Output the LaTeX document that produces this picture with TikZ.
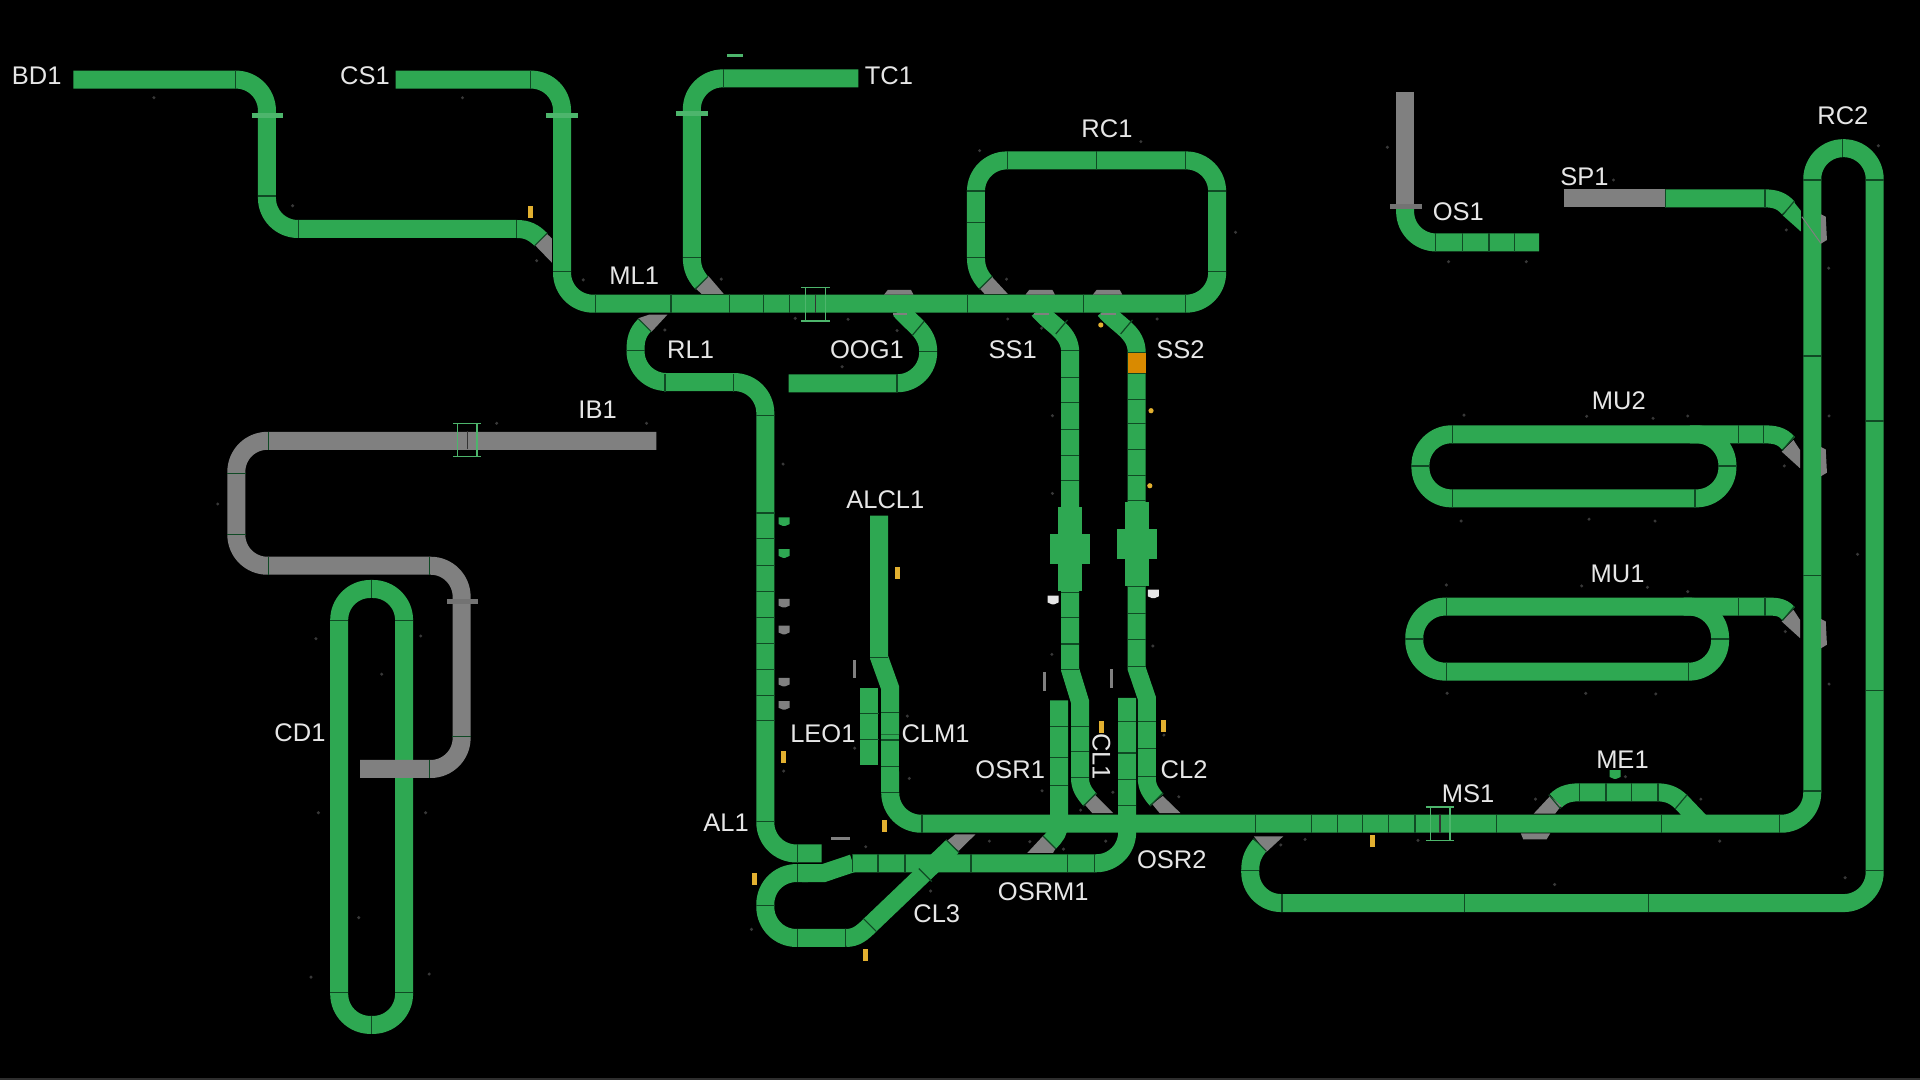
\documentclass[tikz,border=0pt]{standalone}
\usepackage{fontspec}
\setmainfont{Liberation Sans}
\definecolor{pipegreen}{HTML}{2EA852}
\definecolor{pipegray}{HTML}{808080}
\definecolor{cutdark}{HTML}{0F4A24}
\definecolor{tagyellow}{HTML}{E2B030}
\definecolor{blockorange}{HTML}{D98A00}
\definecolor{lbltext}{HTML}{E6E6E6}
\tikzset{
  pipe/.style={draw=pipegreen,line width=18pt},
  graypipe/.style={draw=pipegray,line width=18pt},
  bendy/.style={rounded corners=31pt},
  segcut/.style={draw=cutdark,line width=1.2pt},
  flange/.style={line width=5pt},
  gateline/.style={draw=pipegreen!85!white,line width=1.4pt},
  wedge/.style={fill=pipegray},
  speck/.style={fill=white!22!black},
  lbl/.style={text=lbltext,inner sep=0pt,font=\fontsize{25.5}{28}\selectfont}
}
\begin{document}
\begin{tikzpicture}[x=1.22449pt,y=-1.22449pt]
\useasboundingbox (0,0) rectangle (1568,882);
\fill[black] (0,0) rectangle (1568,882);
\fill[white!18!black] (0,880) rectangle (1568,882);
\foreach \x/\y in {125.7/79.8,377.7/79.8,239/168,438.3/212.9,476.3/228.6,800/123,931.7/115.7,1009/189.7,822/228,589/228,
  543/269.5,649.4/260,692.6/260.8,732.6/270,687.7/299.5,823/260.5,850.6/268,945/260.5,528/345.7,639.5/379,859.5/339.5,859.5/403,
  859/534.4,941.5/527.6,741/584.8,698/611,742.6/635.7,640/629.7,707/691.5,808/686.9,841/687.4,868.5/693.4,903/686.9,851/645.8,
  882.5/661.6,908.8/647,962.7/650.7,760/727.7,613.7/759,950.5/600.3,1065.8/685.5,1046/690,1158/686.3,1254/652.6,1327.4/634.3,
  1389/652.6,1404.4/686.9,1269.6/722.3,1506.8/716.8,1133/120.3,1317.7/147,1458.8/187.8,1493.4/219,1534/119,1183/213.7,1246.5/213.7,
  1195.6/339,1295.8/340,1350/341.6,1378.3/339.7,1193.2/425.5,1297.7/424,1351.6/425.5,1493.7/339.7,1457.2/380.5,1517/452.7,
  1181.2/477.7,1291.7/478.5,1345.4/479.6,1378.3/483.2,1458/515.8,1493.7/558.6,1181.8/566.2,1295/566.2,1352.2/566.7,
  405.6/345.7,177.8/411.6,258/521.6,343.6/519.4,311.7/550.6,260/663.7,347.6/663.7,293/749.4,254/798,350.5/795.5}
  \fill[speck] (\x,\y) circle (1.7pt);
\draw[pipe,bendy] (277,481) -- (330,481) -- (330,837) -- (277,837) -- cycle;
\draw[graypipe,bendy] (536,360) -- (193,360) -- (193,462) -- (377,462) -- (377,628) -- (294,628);
\draw[pipe,bendy] (60,65) -- (218,65) -- (218,187) -- (422,187);
\draw[pipe] (422,187) to[out=0,in=135] (441.7,195.6);
\draw[pipe,bendy] (701,64) -- (565,64) -- (565,210);
\draw[pipe] (565,210) to[out=-90,in=130] (573,231);
\draw[pipe] (526.5,265.5) to[out=225,in=90] (519,286);
\draw[pipe,bendy] (519,286) -- (519,312) -- (625,312) -- (625,697) -- (671,697);
\draw[pipe,bendy] (644,313) -- (758,313) -- (758,287);
\draw[pipe] (758,287) to[out=90,in=-50] (735,253);
\draw[pipe] (848,253) to[out=-50,in=90] (874,288) -- (874,547) -- (882,573) -- (882,635) to[out=-90,in=130] (890,653);
\draw[pipe] (902,253) to[out=-50,in=90] (928.3,288) -- (928.3,546) -- (936.5,570) -- (936.5,635) to[out=-90,in=130] (944.4,653);
\draw[pipe,draw=blockorange] (928.3,288) -- (928.3,305);
\draw[pipe] (718,421) -- (718,537) -- (727,562) -- (727,600);
\draw[pipe] (710,562) -- (710,625);
\draw[pipe] (865,572) -- (865,672) to[out=-90,in=45] (857,688);
\draw[pipe,bendy] (920.5,570) -- (920.5,705) -- (696.5,705);
\draw[pipe] (696.5,705) -- (672.6,713) -- (655,713);
\draw[pipe,bendy] (660,713) -- (625,713) -- (625,766) -- (690.7,766);
\draw[pipe] (690.7,766) to[out=0,in=225] (710.5,755.5) -- (778,691);
\begin{scope}
\clip (1260,630) rectangle (1400,665);
\draw[pipe] (1270.5,654) to[out=45,in=180] (1292,647) -- (1352,647) to[out=0,in=135] (1373,655) -- (1395,678);
\end{scope}
\draw[pipe,bendy] (1160,354.7) -- (1410.7,354.7) -- (1410.7,407) -- (1160,407) -- cycle;
\draw[pipe] (1380,354.7) -- (1440,354.7) to[out=0,in=130] (1460.5,362);
\draw[pipe,bendy] (1155,495.4) -- (1404.7,495.4) -- (1404.7,548.5) -- (1155,548.5) -- cycle;
\draw[pipe] (1375,495.4) -- (1441,495.4) to[out=0,in=130] (1460.5,501);
\draw[graypipe] (1147.5,75) -- (1147.5,169);
\draw[pipe,bendy] (1147.5,169) -- (1147.5,198) -- (1257,198);
\draw[graypipe] (1277,162) -- (1360,162);
\draw[pipe] (1360,162) -- (1441,162) to[out=0,in=130] (1460.5,170);
\fill[pipegreen] (1465,165) -- (1456,176) -- (1470.6,189) -- (1470.6,172) -- cycle;
\draw[pipe,bendy] (323,65) -- (459,65) -- (459,248) -- (994,248) -- (994,131) -- (797,131) -- (797,210);
\draw[pipe] (797,210) to[out=-90,in=130] (805,231);
\draw[pipe] (727,600) -- (727,640);
\draw[pipe,bendy] (727,630) -- (727,672.7) -- (1480,672.7) -- (1480,121) -- (1531,121) -- (1531,737.5) -- (1021,737.5) -- (1021,711);
\draw[pipe] (1021,711) to[out=90,in=230] (1029,690);
\foreach \vx/\vy in {873.8/414,928.3/410}
  \fill[pipegreen] (\vx-9.8,\vy) rectangle (\vx+9.8,\vy+68.5);
\foreach \vx/\vy in {873.8/436,928.3/432}
  \fill[pipegreen] (\vx-16.3,\vy) rectangle (\vx+16.3,\vy+24.5);
\fill[wedge] (436.7,200) -- (446.7,191) -- (450.7,194.7) -- (450.7,214.5) -- cycle;
\fill[wedge] (568,235.5) -- (578.5,225.4) -- (591,240) -- (573,240) -- cycle;
\fill[wedge] (800,235.5) -- (810,226) -- (823,240) -- (804,240) -- cycle;
\fill[wedge] (521,260) -- (532,271) -- (545,257) -- (530,257) -- cycle;
\fill[wedge] (885.5,656.6) -- (894,649) -- (909,664) -- (892,664) -- cycle;
\fill[wedge] (941,656.7) -- (949.6,650) -- (964,664) -- (947,664) -- cycle;
\fill[wedge] (852,682.5) -- (862,693) -- (860,696.5) -- (839,696.5) -- cycle;
\fill[wedge] (773,687) -- (783,694.8) -- (796.5,681.5) -- (780,681.5) -- cycle;
\fill[wedge] (1024,683) -- (1034,696) -- (1048,683) -- cycle;
\fill[wedge] (1252.5,664.5) -- (1266,650) -- (1275,658) -- (1270,664.5) -- cycle;
\fill[wedge] (1242,680.6) -- (1266,680.6) -- (1263,685.5) -- (1244,685.5) -- cycle;
\foreach \cx in {734,849.5,904.5} {
  \fill[wedge] (\cx-12,240.6) -- (\cx-9,236.8) -- (\cx+10,236.8) -- (\cx+12,240.6) -- cycle;
  \fill[wedge] (\cx-5,256) rectangle (\cx+7,257.5);
}
\foreach \wx/\wy in {1464.6/359.3,1464.6/498}
  \fill[wedge] (\wx,\wy) -- (\wx-9.6,\wy+9.5) -- (\wx+5.4,\wy+23.1) -- (\wx+5.4,\wy+8.2) -- cycle;
\draw[pipegray,line width=1pt] (1471.5,177) -- (1487,198.7);
\foreach \ty in {175,365,505.5}
  \fill[wedge] (1487,\ty) -- (1491,\ty+2) -- (1492,\ty+21) -- (1487,\ty+24) -- cycle;
\foreach \fx/\fy in {218.5/94.5,459/94,565/93}
  \draw[flange,pipegreen!85!white] (\fx-13,\fy) -- (\fx+13,\fy);
\draw[pipegreen!85!white,line width=3pt] (594,45) -- (607,45);
\draw[flange,pipegray!110] (1135,169) -- (1161,169);
\draw[flange,pipegray!110] (365,491.4) -- (390.4,491.4);
\foreach \x/\y/\a in {192/65/90,244/187/90,422/187/90,433/65/90,486/248/90,591/64/90,548/248/90,596/248/90,623.5/248/90,645/248/90,
  790/248/90,885/248/90,968/248/90,823/131/90,895.6/131/90,968/131/90,543/313/90,599/313/90,732.6/313/90,
  753/672.7/90,1025/672.7/90,1071/672.7/90,1092/672.7/90,1113/672.7/90,1134/672.7/90,1155.5/672.7/90,1222/672.7/90,1357/672.7/90,1453/672.7/90,
  1047/737.5/90,1196/737.5/90,1346/737.5/90,303.5/481/90,303.5/837/90,1290/647/90,1311.6/647/90,1332.5/647/90,1354/647/90,1505/121/90,
  696.5/705/90,717/705/90,739/705/90,793/705/90,872/705/90,893.6/705/90,651.6/697/90,651.6/713/90,651.6/766/90,690.7/766/90,
  1172.6/198/90,1194.5/198/90,1216/198/90,1237/198/90,1360/162/90,1441.4/162/90,219/360/90,219/462/90,351/462/90,351/628/90,
  1186/354.7/90,1419.7/354.7/90,1440/354.7/90,1186/407/90,1384.3/407/90,1181/495.4/90,1419.7/495.4/90,1441.4/495.4/90,1181/548.5/90,1378.8/548.5/90,
  218/160/0,459/222/0,565/210/0,797/156/0,797/182/0,797/210/0,994/156/0,994/222/0,519/286/0,758/287/0,625/339/0,
  625/419/0,625/440/0,625/462/0,625/483/0,625/504/0,625/525.3/0,625/546.5/0,625/568/0,625/588.6/0,625/671/0,
  874/286/0,874/308/0,874/329/0,874/351/0,874/372/0,874/392.5/0,874/483.6/0,874/504.4/0,874/526/0,874/547/0,
  928.3/288/0,928.3/305/0,928.3/326/0,928.3/346/0,928.3/367/0,928.3/388/0,928.3/409/0,928.3/479/0,928.3/500.8/0,928.3/522/0,928.3/544/0,
  882/593/0,882/614/0,882/635/0,936.5/589/0,936.5/611/0,936.5/634/0,710/583/0,710/604/0,718/537/0,727/582/0,727/604.4/0,727/626/0,727/647/0,
  865/593/0,865/618.5/0,865/641.7/0,920.5/589/0,920.5/615/0,920.5/636.5/0,920.5/657.5/0,625/739.7/0,1021/710.6/0,
  1480/147/0,1480/290.7/0,1480/470/0,1480/646/0,1531/147/0,1531/343.8/0,1531/564/0,1531/711/0,
  277/507/0,330/507/0,277/810.4/0,330/810.4/0,193/386.6/0,193/436.7/0,377/601.6/0,
  1160/380.5/0,1410.7/380.5/0,1155/521.8/0,1404.7/521.8/0,
  750/268/50,867/267/50,920/267/50,441.7/195.6/45,710.5/755.5/-45,755.7/714.6/-45,1269.6/654.7/-50,1373/654.7/50,
  1460.5/170/50,1460.5/362/50,1460.5/501/50,890/653/45,944.4/653/45,805/231/45,573/231/45,526.5/265.5/-45,778/691/-45,857/688/-45,1029/690/-45}
  \draw[segcut,shift={(\x,\y)},rotate=\a] (-7.5,0) -- (7.5,0);
\foreach \gx/\gy in {666/248.5,381.5/359.5,1176/672.7} {
  \draw[gateline] (\gx-11.5,\gy-13.5) -- (\gx+11.5,\gy-13.5);
  \draw[gateline] (\gx-11.5,\gy+13.5) -- (\gx+11.5,\gy+13.5);
  \draw[gateline] (\gx-8,\gy-13.5) -- (\gx-8,\gy+13.5);
  \draw[gateline] (\gx+8,\gy-13.5) -- (\gx+8,\gy+13.5);
  \draw[segcut,black!80] (\gx,\gy-7.5) -- (\gx,\gy+7.5);
}
\foreach \x/\y in {433.3/173,732.8/468,640/618.5,722.4/674.4,616/717.6,707/779.7,899.5/594,950.5/593,1121/687}
  \fill[tagyellow] (\x-2,\y-5) rectangle (\x+2,\y+5);
\foreach \x/\y in {899/265.4,940/335.4,939/396.7}
  \fill[tagyellow] (\x,\y) circle (2.6pt);
\foreach \x/\y in {853/556.7,907.6/554,697.7/546.5}
  \fill[pipegray] (\x-1.5,\y-7.5) rectangle (\x+1.5,\y+7.5);
\fill[pipegray] (679,683.5) rectangle (694,686);
\foreach \x/\y/\c in {640.3/426/pipegreen,640.3/452/pipegreen,640.3/492.6/pipegray,640.3/514.5/pipegray,640.3/557/pipegray,640.3/576/pipegray,860/490/lbltext,941.9/485/lbltext,1319/632.5/pipegreen}
  \fill[\c] (\x-4.5,\y-3.5) -- (\x+4.5,\y-3.5) -- (\x+4.5,\y+2) -- (\x+1,\y+3.5) -- (\x-1,\y+3.5) -- (\x-4.5,\y+2) -- cycle;
\node[lbl] (bd1) at (30,61.5) {BD1};
\node[lbl] (cs1) at (298,61.5) {CS1};
\node[lbl] (tc1) at (726,61.5) {TC1};
\node[lbl] (rc1) at (904,105.5) {RC1};
\node[lbl] (ml1) at (518,225.5) {ML1};
\node[lbl] (rl1) at (564,285.5) {RL1};
\node[lbl] (oog1) at (708,285.5) {OOG1};
\node[lbl] (ss1) at (827,285.5) {SS1};
\node[lbl] (ss2) at (964,285.5) {SS2};
\node[lbl] (ib1) at (488,334.5) {IB1};
\node[lbl] (alcl1) at (723,408.5) {ALCL1};
\node[lbl] (cd1) at (245,598.5) {CD1};
\node[lbl] (leo1) at (672,599.5) {LEO1};
\node[lbl] (clm1) at (764,599.5) {CLM1};
\node[lbl] (osr1) at (825,628.5) {OSR1};
\node[lbl,rotate=-90] (cl1) at (899.5,618) {CL1};
\node[lbl] (cl2) at (967,628.5) {CL2};
\node[lbl] (al1) at (593,671.5) {AL1};
\node[lbl] (osr2) at (957,702.5) {OSR2};
\node[lbl] (osrm1) at (852,728.5) {OSRM1};
\node[lbl] (cl3) at (765,746.5) {CL3};
\node[lbl] (ms1) at (1199,648.5) {MS1};
\node[lbl] (me1) at (1325,620.5) {ME1};
\node[lbl] (os1) at (1191,172.5) {OS1};
\node[lbl] (sp1) at (1294,144.5) {SP1};
\node[lbl] (rc2) at (1505,94.5) {RC2};
\node[lbl] (mu2) at (1322,327.5) {MU2};
\node[lbl] (mu1) at (1321,468.5) {MU1};
\end{tikzpicture}
\end{document}
